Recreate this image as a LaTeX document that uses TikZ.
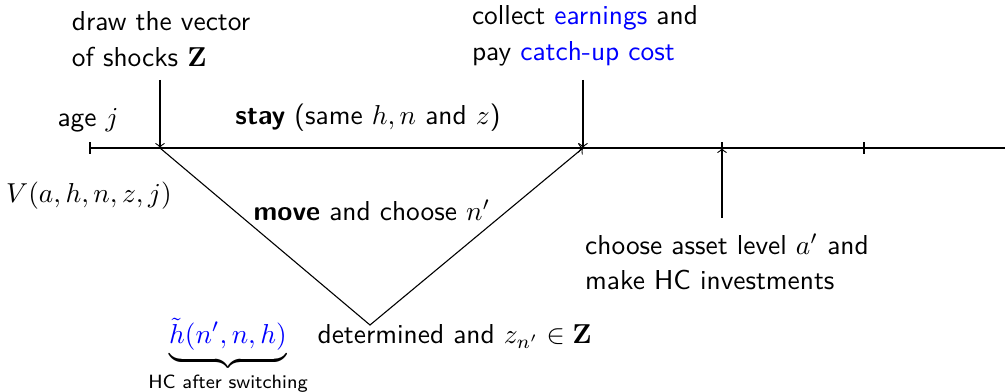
\documentclass[tikz,border=0pt]{standalone}
\usepackage{xcolor}
\usepackage{amsmath,amssymb}
\usepackage{tikz}
\usetikzlibrary{arrows.meta,positioning,calc}
\renewcommand{\familydefault}{\sfdefault}

\begin{document}
\begin{tikzpicture}[x=0.01283cm,y=0.01283cm,>=to,
    event/.style={align=left,inner sep=0pt}]
  \useasboundingbox (0,0) rectangle (1005,392);
  \coordinate (start) at (90,244);
  \coordinate (shock) at (160,244);
  \coordinate (work) at (583,244);
  \coordinate (save) at (722,244);
  \coordinate (next) at (864,244);
  \coordinate (stop) at (1005,244);
  \coordinate (low) at (370,67);
  \draw (start) -- (stop);
  \foreach \p in {start,save,next}
    \draw ($(\p)+(0,-6)$) -- ($(\p)+(0,6)$);
  \node[event] (drawZ) at (161,353) {draw the vector\\[1pt]of shocks $\mathbf{Z}$};
  \node[event] (collect) at (585,356) {collect \textcolor{blue}{earnings} and\\[1pt]pay \textcolor{blue}{catch-up cost}};
  \node[event] (choose) at (727,130) {choose asset level $a'$ and\\[1pt]make HC investments};
  \coordinate (drawtop) at (160,312);
  \coordinate (collecttop) at (583,312);
  \coordinate (choosebot) at (722,174);
  \draw[->] (drawtop) -- (shock);
  \draw[->] (collecttop) -- (work);
  \draw[->] (choosebot) -- (save);
  \draw[->] (shock) -- (work);
  \draw[->] (shock) -- (low) -- (work);
  \node (age) at (88,272) {age $j$};
  \node (value) at (89,196) {$V(a,h,n,z,j)$};
  \node (stay) at (368,274) {\textbf{stay} (same $h,n$ and $z$)};
  \node (move) at (372,182) {\textbf{move} and choose $n'$};
  \node[anchor=base] (htilde) at (228,48)
    {$\underbrace{\color{blue}\tilde{h}(n',n,h)}_{\text{HC after switching}}$};
  \node[anchor=base west] (det) at (308,48) {determined and $z_{n'}\in\mathbf{Z}$};
\end{tikzpicture}
\end{document}
